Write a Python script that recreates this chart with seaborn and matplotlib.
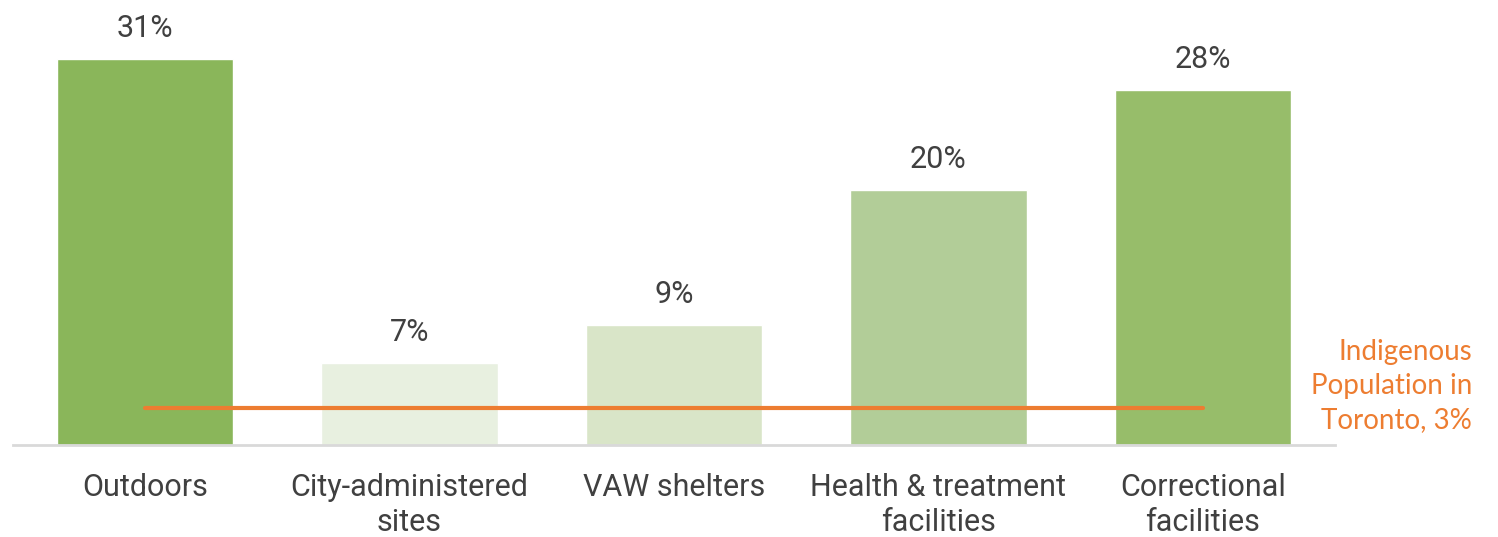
import matplotlib
matplotlib.use("Agg")
import matplotlib.pyplot as plt
import seaborn as sns
import pandas as pd

categories = ["Outdoors", "City-administered\nsites", "VAW shelters",
              "Health & treatment\nfacilities", "Correctional\nfacilities"]
values = [31.0, 6.6, 9.6, 20.5, 28.5]
labels = ["31%", "7%", "9%", "20%", "28%"]
colors = ["#8AB65A", "#E8F0E0", "#D9E5C8", "#B2CD98", "#97BD6A"]
benchmark = 3.0
benchmark_label = "Indigenous\nPopulation in\nToronto, 3%"

sns.set_theme(style="white")
plt.rcParams["font.family"] = ["Roboto", "DejaVu Sans"]

df = pd.DataFrame({"cat": categories, "val": values})

fig = plt.figure(figsize=(14.98, 5.37), dpi=100)
ax = fig.add_axes([13 / 1498, 92 / 537, 1322 / 1498, 445 / 537])
sns.barplot(data=df, x="cat", y="val", hue="cat", palette=colors,
            width=0.667, legend=False, ax=ax, saturation=1)

for i, (v, lab) in enumerate(zip(values, labels)):
    ax.text(i, v + 1.3, lab, ha="center", va="bottom", fontsize=22, color="#404040")

# benchmark line across the categories
ax.plot([0, len(categories) - 1], [benchmark, benchmark], color="#ED7D31", lw=3,
        solid_capstyle="round")
fig.text(1472 / 1498, 1 - 386 / 537, benchmark_label, ha="right", va="center",
         fontsize=20, color="#ED7D31", family=["Lato", "DejaVu Sans"],
         linespacing=1.4)

ax.set_ylim(0, 445 / 12.45)
ax.set_xlim(-0.5, len(categories) - 0.5)
ax.set_yticks([])
ax.set_xlabel("")
ax.set_ylabel("")
for s in ["top", "right", "left"]:
    ax.spines[s].set_visible(False)
ax.spines["bottom"].set_color("#D9D9D9")
ax.spines["bottom"].set_linewidth(2)
ax.tick_params(axis="x", length=0, pad=20, labelsize=22, labelcolor="#404040")
for t in ax.get_xticklabels():
    t.set_linespacing(1.25)

fig.savefig("out.png", dpi=100)
